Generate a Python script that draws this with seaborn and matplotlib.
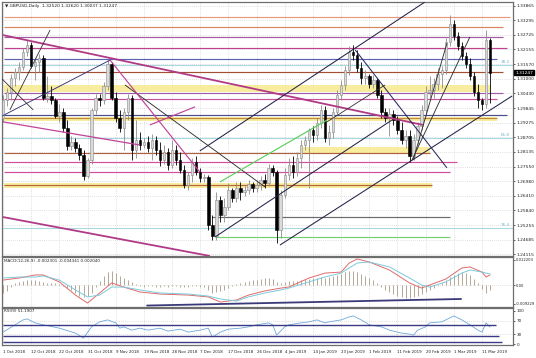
import numpy as np
import pandas as pd
import matplotlib
matplotlib.use("Agg")
import matplotlib.pyplot as plt
import seaborn as sns

# ---------------- data ----------------
closes = [1.3017,1.3048,1.3104,1.3127,1.3147,1.3206,1.3233,1.3151,1.3166,1.3182,
          1.3025,1.3033,1.3017,1.2954,1.2970,1.2907,1.2836,1.2852,1.2828,1.2801,
          1.2718,1.2781,1.2978,1.3025,1.3017,1.3072,1.3158,1.3025,1.2946,1.2907,
          1.2970,1.3025,1.2821,1.2860,1.2840,1.2852,1.2828,1.2860,1.2821,1.2781,
          1.2813,1.2762,1.2821,1.2781,1.2742,1.2683,1.2722,1.2773,1.2734,1.2711,
          1.2713,1.2526,1.2483,1.2624,1.2565,1.2597,1.2663,1.2632,1.2671,1.2655,
          1.2663,1.2687,1.2671,1.2683,1.2703,1.2691,1.2750,1.2734,1.2506,1.2644,
          1.2722,1.2762,1.2734,1.2789,1.2840,1.2860,1.2899,1.2880,1.2927,1.2978,
          1.2868,1.2891,1.2970,1.3037,1.3076,1.3135,1.3206,1.3194,1.3143,1.3104,
          1.3111,1.3080,1.3096,1.3037,1.2970,1.2946,1.2962,1.2938,1.2899,1.2860,
          1.2876,1.2797,1.2860,1.2915,1.2978,1.3048,1.3056,1.3080,1.3119,1.3135,
          1.3245,1.3316,1.3269,1.3229,1.3190,1.3158,1.3111,1.3048,1.3017,1.3001,
          1.3252,1.3125]
highs = [1.3037,1.3064,1.3119,1.3143,1.3166,1.3221,1.3253,1.3245,1.3182,1.3198,
         1.3194,1.3111,1.3072,1.3025,1.3001,1.2986,1.2938,1.2876,1.2868,1.2844,
         1.2821,1.2789,1.2986,1.3041,1.3041,1.3088,1.3182,1.3166,1.3048,1.2978,
         1.2986,1.3041,1.3037,1.2938,1.2891,1.2868,1.2876,1.2883,1.2876,1.2852,
         1.2840,1.2828,1.2860,1.2840,1.2813,1.2762,1.2734,1.2789,1.2797,1.2750,
         1.2726,1.2722,1.2565,1.2655,1.2640,1.2632,1.2691,1.2671,1.2695,1.2695,
         1.2679,1.2703,1.2695,1.2703,1.2718,1.2726,1.2766,1.2762,1.2742,1.2663,
         1.2750,1.2789,1.2797,1.2813,1.2860,1.2876,1.2907,1.2915,1.2946,1.2997,
         1.2993,1.2919,1.2986,1.3056,1.3096,1.3151,1.3229,1.3233,1.3214,1.3166,
         1.3135,1.3119,1.3115,1.3104,1.3056,1.2986,1.2986,1.2978,1.2954,1.2931,
         1.2899,1.2899,1.2883,1.2931,1.2997,1.3072,1.3111,1.3104,1.3143,1.3151,
         1.3261,1.3351,1.3331,1.3284,1.3245,1.3206,1.3182,1.3127,1.3080,1.3025,
         1.3292,1.3262]
lows = [1.2931,1.2993,1.3017,1.3072,1.3096,1.3135,1.3190,1.3143,1.3096,1.3127,
        1.3017,1.3009,1.3001,1.2946,1.2931,1.2891,1.2821,1.2821,1.2813,1.2781,
        1.2703,1.2711,1.2766,1.2962,1.2993,1.3001,1.3056,1.3017,1.2931,1.2891,
        1.2821,1.2938,1.2781,1.2789,1.2821,1.2828,1.2813,1.2781,1.2801,1.2758,
        1.2766,1.2742,1.2750,1.2762,1.2730,1.2671,1.2663,1.2695,1.2722,1.2695,
        1.2695,1.2506,1.2467,1.2467,1.2538,1.2538,1.2585,1.2616,1.2616,1.2624,
        1.2640,1.2648,1.2655,1.2655,1.2663,1.2671,1.2679,1.2718,1.2455,1.2475,
        1.2632,1.2703,1.2711,1.2718,1.2750,1.2821,1.2671,1.2852,1.2860,1.2907,
        1.2852,1.2840,1.2868,1.2958,1.3017,1.3056,1.3115,1.3174,1.3127,1.3080,
        1.3080,1.3064,1.3064,1.3025,1.2946,1.2931,1.2876,1.2919,1.2883,1.2844,
        1.2828,1.2773,1.2781,1.2844,1.2899,1.2962,1.3025,1.3025,1.3056,1.3064,
        1.3119,1.3229,1.3253,1.3214,1.3174,1.3143,1.3096,1.3033,1.2986,1.2978,
        1.2986,1.3004]
first_open = 1.2946
opens = [first_open] + closes[:-1]

date_labels = ['1 Oct 2018', '12 Oct 2018', '22 Oct 2018', '31 Oct 2018', '9 Nov 2018',
               '19 Nov 2018', '28 Nov 2018', '7 Dec 2018', '17 Dec 2018', '26 Dec 2018',
               '4 Jan 2019', '14 Jan 2019', '23 Jan 2019', '1 Feb 2019', '11 Feb 2019',
               '20 Feb 2019', '1 Mar 2019', '11 Mar 2019']
date_bars = [0, 7, 14, 21, 28, 35, 42, 49, 56, 63, 70, 77, 84, 91, 98, 105, 112, 119]

price_ticks = [1.33865, 1.33295, 1.32725, 1.32155, 1.31570, 1.31000, 1.30430, 1.29845,
               1.29275, 1.28705, 1.28135, 1.27550, 1.26980, 1.26410, 1.25840, 1.25255,
               1.24685, 1.24115]
last_price = 1.31247
title_main = '\u25bc GBPUSD,Daily  1.32520 1.32620 1.30037 1.31247'

# horizontal levels drawn on the chart
h_levels = [1.3343, 1.3304, 1.3265, 1.3221, 1.3178, 1.3127, 1.3045, 1.3021, 1.2958,
            1.2946, 1.2809, 1.2773, 1.2734, 1.2683, 1.2557, 1.2479]
zone_low = [1.3048, 1.2934, 1.2809, 1.2671]
zone_high = [1.3076, 1.2950, 1.2832, 1.2691]
fib_levels = [1.3155, 1.2868, 1.2514]
fib_labels = ['38.2', '61.8', '76.4']

# trend lines: anchor bar / anchor price
trend_bar0 = [0, 0, 0, 48.9, 52.7, 68.8, 30.3, 26.6, 36.5, -0.7, 1.7, -0.7, 87.5, 101.6, 101.9, 53.9, 80.5]
trend_p0 = [1.3272, 1.2931, 1.2557, 1.2817, 1.2479, 1.2447, 1.3076, 1.3174, 1.2919, 1.2950,
            1.2978, 1.3107, 1.3214, 1.2781, 1.2781, 1.2695, 1.2931]
trend_bar1 = [104.3, 34, 51.4, 104.8, 96.6, 126.5, 65.1, 48.9, 47.7, 26.6, 11.7, 7.5, 110.3, 116, 110.3, 80.5, 94.9]
trend_p1 = [1.2919, 1.2840, 1.2404, 1.3402, 1.2938, 1.3033, 1.2675, 1.2734, 1.2990, 1.3174,
            1.3292, 1.2978, 1.2750, 1.3265, 1.3241, 1.2938, 1.3076]

# MACD panel
macd_title = 'MACD(12,26,9) -0.002301 -0.004341 0.002040'
hist_e4 = [-40,-30,-10,10,15,20,25,25,22,20,
           15,12,10,8,5,-5,-15,-25,-40,-55,
           -60,-55,-40,-10,20,45,65,70,60,45,
           35,25,15,5,-5,-8,-5,-3,-8,-10,
           -6,-8,-4,-6,-10,-12,-8,-4,-6,-8,
           -10,-25,-40,-35,-30,-25,-15,-5,5,10,
           15,20,22,25,28,32,35,30,15,10,
           15,20,18,20,25,28,30,32,35,38,
           35,38,42,48,55,62,68,70,65,55,
           45,35,25,12,-10,-25,-35,-45,-55,-60,
           -65,-65,-60,-55,-45,-35,-25,-15,-5,10,
           25,40,50,60,65,60,50,30,10,-20,
           -40,-25]
macd_bars = [0,4,8,10,14,18,21,24,27,30,34,39,46,51,54,58,61,65,69,71,76,80,84,86,88,91,
             96,101,104,106,110,114,116,119,120,121]
macd_red = [0.0024,0.0034,0.0049,0.0049,0.0015,-0.0049,-0.0088,-0.0039,0.0010,-0.0010,
            -0.0034,-0.0044,-0.0049,-0.0058,-0.0083,-0.0073,-0.0049,-0.0029,-0.0015,-0.0010,
            0.0034,0.0058,0.0063,0.0107,0.0127,0.0112,0.0073,0.0010,-0.0015,0.0000,
            0.0029,0.0083,0.0088,0.0063,0.0039,0.0049]
macd_cyan = [0.0034,0.0039,0.0039,0.0044,0.0024,-0.0024,-0.0058,-0.0049,-0.0010,-0.0010,
             -0.0024,-0.0039,-0.0044,-0.0054,-0.0068,-0.0078,-0.0058,-0.0039,-0.0024,-0.0015,
             0.0015,0.0039,0.0058,0.0083,0.0107,0.0112,0.0088,0.0034,0.0000,-0.0010,
             0.0015,0.0058,0.0073,0.0063,0.0058,0.0054]
macd_trend_bars = [35.8, 113.8]
macd_trend_vals = [-0.0100, -0.0068]
macd_ticks = [0.012203, 0.0, -0.009229]
macd_tick_labels = ['0.012203', '0.00', '-0.009229']

# RSI panel
rsi_title = 'RSI(9) 51.1907'
rsi_bars = [0,3,5,6,8,10,14,18,20,22,24,26,28,29,30,32,34,36,39,41,44,46,49,51,52,54,56,59,
            61,63,66,67,68,70,71,74,76,78,80,81,84,86,87,89,91,94,96,99,101,102,103,105,106,
            109,111,112,114,116,118,119,120,121]
rsi_vals = [36,58,73,76,64,58,48,33,18,52,67,73,64,48,52,42,48,42,48,39,45,36,42,48,21,36,45,48,
            52,58,64,58,27,52,58,64,67,73,64,67,73,82,85,73,58,52,42,33,30,27,42,52,64,
            67,79,85,73,58,42,36,64,51]
rsi_levels = [58, 24, 6]
rsi_ticks = [100, 70, 30, 0]

# ---------------- styles ----------------
h_colors = ['#e8997a', '#d9855e', '#a459a0', '#c2418f', '#5a63b3', '#a34f33', '#9d5ca8',
            '#c8519c', '#4b4b8e', '#c08a3a', '#b0603f', '#d24c9c', '#d24c9c', '#b5653a',
            '#6b6b6b', '#6fd06f']
h_start = [0.3, 0.3, 0.3, 0.3, 0.3, 0.3, 0.3, 0.3, 0.3, 0.3, 0.3, 0.3, 0.3, 0.3, 51.9, 52.7]
h_end = [126, 124.2, 124.2, 125.2, 122.7, 124.2, 124.2, 122.7, 125.2, 122.7, 106.1, 112.8,
         111, 106.6, 111, 111]
zone_start = [0.3, 0.3, 73.8, 0.3]
zone_end = [121, 122.7, 106.1, 106.6]
trend_colors = ['#b03a86', '#c0449a', '#b03a86', '#23234a', '#23234a', '#23234a', '#303030',
                '#c0449a', '#c0449a', '#33337a', '#303030', '#303030', '#2a2a60', '#303030',
                '#303030', '#5ccf5c', '#303030']
trend_lw = [1.3, 0.9, 1.3, 0.75, 0.75, 0.75, 0.65, 0.85, 0.85, 0.65, 0.6, 0.6, 0.75, 0.65, 0.65, 0.85, 0.6]

sns.set_theme(style='white')
plt.rcParams['font.family'] = ['DejaVu Sans']

W, H = 536, 358
fig = plt.figure(figsize=(W / 100, H / 100), dpi=100)
fig.patch.set_facecolor('white')

def frac(x0, y0, x1, y1):
    return [x0 / W, 1 - y1 / H, (x1 - x0) / W, (y1 - y0) / H]

ax = fig.add_axes(frac(2, 2, 513, 256))
axm = fig.add_axes(frac(2, 257, 513, 307), sharex=ax)
axr = fig.add_axes(frac(2, 308, 513, 345), sharex=ax)

XL = (-0.25, 126.7)
grid_kw = dict(color='#c4c4c4', lw=0.5, ls=(0, (1, 2)), zorder=0)
for a in (ax, axm, axr):
    a.set_facecolor('white')
    for s in a.spines.values():
        s.set_color('#6e6e6e')
        s.set_linewidth(0.9)
    for b in date_bars:
        a.axvline(b, **grid_kw)

# ---- main price panel ----
ax.set_xlim(*XL)
ax.set_ylim(1.24039, 1.34021)
for p in price_ticks:
    ax.axhline(p, **grid_kw)

for lo_, hi_, s_, e_ in zip(zone_low, zone_high, zone_start, zone_end):
    ax.fill_between([s_, e_], lo_, hi_, color='#f7e98e', alpha=0.85, lw=0, zorder=1)
for lv, col, s_, e_ in zip(h_levels, h_colors, h_start, h_end):
    ax.hlines(lv, s_, e_, color=col, lw=0.85, zorder=2)
for lv, lab in zip(fib_levels, fib_labels):
    ax.axhline(lv, color='#a9d9e0', lw=0.8, zorder=2)
    ax.text(125.8, lv + 0.0003, lab, color='#6fb5c4', fontsize=3.0, ha='right', va='bottom')

idx = np.arange(len(closes))
o = np.array(opens); c = np.array(closes); h = np.array(highs); l = np.array(lows)
up = c >= o
ax.vlines(idx[up], l[up], h[up], color='#8c8c8c', lw=0.6, zorder=4)
ax.vlines(idx[~up], l[~up], h[~up], color='black', lw=0.6, zorder=4)
ax.bar(idx[up], (c - o)[up], bottom=o[up], width=0.62, color='#dadada',
       edgecolor='#8a8a8a', linewidth=0.4, zorder=5)
ax.bar(idx[~up], (c - o)[~up], bottom=o[~up], width=0.62, color='black',
       edgecolor='black', linewidth=0.4, zorder=5)

for b0, p0, b1, p1, col, lw in zip(trend_bar0, trend_p0, trend_bar1, trend_p1, trend_colors, trend_lw):
    ax.plot([b0, b1], [p0, p1], color=col, lw=lw, zorder=6, solid_capstyle='butt')

ax.yaxis.tick_right()
ax.set_yticks(price_ticks)
ax.set_yticklabels([f'{p:.5f}' for p in price_ticks])
ax.tick_params(axis='y', labelsize=3.2, length=1.5, width=0.5, pad=1, colors='#222222')
ax.tick_params(axis='x', labelbottom=False, length=0)
ax.text(0.006, 0.992, title_main, transform=ax.transAxes, fontsize=3.1, va='top', ha='left')
ax.annotate(f'{last_price:.5f}', xy=(1.0, last_price), xycoords=('axes fraction', 'data'),
            xytext=(1.5, 0), textcoords='offset points', fontsize=3.2, color='white',
            va='center', ha='left',
            bbox=dict(boxstyle='square,pad=0.15', fc='black', ec='black'))

# ---- MACD panel ----
axm.set_ylim(-0.01071, 0.01364)
axm.axhline(0, **grid_kw)
axm.vlines(idx, 0, np.array(hist_e4) * 1e-4, color='#b3a797', lw=0.7, zorder=2)
dm = pd.DataFrame({'bar': macd_bars, 'red': macd_red, 'cyan': macd_cyan})
sns.lineplot(data=dm, x='bar', y='red', ax=axm, color='#e06a6a', lw=0.7, zorder=3)
sns.lineplot(data=dm, x='bar', y='cyan', ax=axm, color='#7cc9dc', lw=0.7, zorder=3)
axm.plot(macd_trend_bars, macd_trend_vals, color='#3a3a7a', lw=1.3, zorder=4)
axm.yaxis.tick_right()
axm.set_yticks(macd_ticks)
axm.set_yticklabels(macd_tick_labels)
axm.tick_params(axis='y', labelsize=2.7, length=1.2, width=0.5, pad=0.6, colors='#222222')
axm.tick_params(axis='x', labelbottom=False, length=0)
axm.set_xlabel(''); axm.set_ylabel('')
axm.text(0.004, 0.96, macd_title, transform=axm.transAxes, fontsize=3.0, va='top', ha='left')

# ---- RSI panel ----
axr.set_ylim(-3, 109)
for lv in (70, 30):
    axr.axhline(lv, **grid_kw)
dr = pd.DataFrame({'bar': rsi_bars, 'rsi': rsi_vals})
sns.lineplot(data=dr, x='bar', y='rsi', ax=axr, color='#6fa8dc', lw=0.6, zorder=3)
for lv, e_ in zip(rsi_levels, [122.5, 123.2, 123.9]):
    axr.hlines(lv, 0, e_, color='#3a3a85', lw=1.0, zorder=4)
axr.yaxis.tick_right()
axr.set_yticks(rsi_ticks)
axr.set_yticklabels([str(t) for t in rsi_ticks])
axr.tick_params(axis='y', labelsize=3.0, length=1.5, width=0.5, pad=1, colors='#222222')
axr.set_xticks(date_bars)
axr.set_xticklabels(date_labels, ha='left')
axr.tick_params(axis='x', labelsize=2.85, length=2, width=0.5, pad=1.5, colors='#222222')
axr.set_xlabel(''); axr.set_ylabel('')
axr.text(0.004, 0.96, rsi_title, transform=axr.transAxes, fontsize=3.0, va='top', ha='left')
axr.set_xlim(*XL)

fig.savefig('out.png', dpi=100, facecolor='white')
